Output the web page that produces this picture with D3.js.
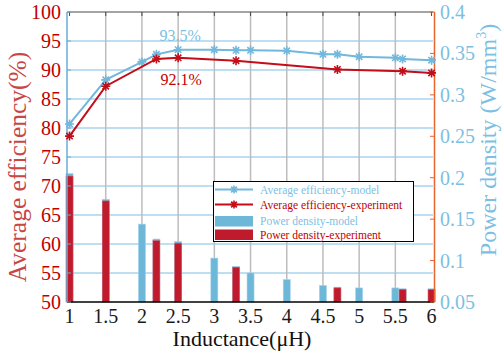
<!DOCTYPE html>
<html>
<head>
<meta charset="utf-8">
<script src="https://cdn.jsdelivr.net/npm/d3@7"></script>
<style>
  html, body { margin: 0; padding: 0; background: #fff; }
  svg { display: block; }
  svg text { font-family: "Liberation Serif", "DejaVu Serif", serif; }
</style>
</head>
<body>
<svg id="chart" width="503" height="356"></svg>
<script>
// Inductance values (µH)
const inductanceModel = [1, 1.5, 2, 2.2, 2.5, 3, 3.3, 3.5, 4, 4.5, 4.7, 5, 5.5, 5.6, 6];
const inductanceExp = [1, 1.5, 2.2, 2.5, 3.3, 4.7, 5.6, 6];

// Average efficiency (%)
const effModel = [80.7, 88.3, 91.4, 92.7, 93.5, 93.5, 93.4, 93.4, 93.3, 92.7, 92.7, 92.3, 92.1, 91.9, 91.7];
const effExp = [78.6, 87.2, 91.9, 92.1, 91.6, 90.1, 89.8, 89.5];

// Power density (W/mm^3)
const pdModel = [0.205, 0.174, 0.144, 0.126, 0.123, 0.103, 0.093, 0.085, 0.077, 0.070, 0.068, 0.067, 0.067, 0.066, 0.066];
const pdExp = [0.202, 0.172, 0.124, 0.121, 0.092, 0.067, 0.065, 0.065];

// Axis ticks
const xTicks = [1, 1.5, 2, 2.5, 3, 3.5, 4, 4.5, 5, 5.5, 6];
const xTickLabels = ["1", "1.5", "2", "2.5", "3", "3.5", "4", "4.5", "5", "5.5", "6"];
const yLeftTicks = [50, 55, 60, 65, 70, 75, 80, 85, 90, 95, 100];
const yRightTicks = [0.05, 0.1, 0.15, 0.2, 0.25, 0.3, 0.35, 0.4];
const yRightTickLabels = ["0.05", "0.1", "0.15", "0.2", "0.25", "0.3", "0.35", "0.4"];

const legendItems = [
  { label: "Average efficiency-model", kind: "line", series: "model" },
  { label: "Average efficiency-experiment", kind: "line", series: "exp" },
  { label: "Power density-model", kind: "bar", series: "model" },
  { label: "Power density-experiment", kind: "bar", series: "exp" }
];

const C = {
  blueLine: "#72b8dc",
  blueBar: "#6db7d8",
  blueText: "#7dbfe3",
  redLine: "#c40d18",
  redBar: "#c01b2d",
  redText: "#c00000",
  redTitle: "#c84646",
  gridH: "#a9d3ec",
  gridV: "#bdbdbd",
  orange: "#e8652d",
  leftAxis: "#6aaed6"
};

const FONT = '"Liberation Serif", "DejaVu Serif", serif';
const svg = d3.select("#chart").attr("font-family", FONT);
const L = 67, R = 433, T = 12, B = 302;

const x = d3.scaleLinear().domain([0.965, 6.02]).range([L, R]);
const yL = d3.scaleLinear().domain([50, 100]).range([B, T]);
const yR = d3.scaleLinear().domain([0.05, 0.4]).range([B, T]);

// Grid
const grid = svg.append("g");
grid.selectAll("line.h").data(yLeftTicks.filter(v => v > 50 && v < 100)).join("line")
  .attr("x1", L).attr("x2", R).attr("y1", d => yL(d)).attr("y2", d => yL(d))
  .attr("stroke", C.gridH).attr("stroke-width", 1.5);
grid.selectAll("line.v").data(xTicks.filter(v => v > 1 && v < 6)).join("line")
  .attr("x1", d => x(d)).attr("x2", d => x(d)).attr("y1", T).attr("y2", B)
  .attr("stroke", C.gridV).attr("stroke-width", 1.5);

// Bars: model behind, experiment in front
const barW = 7;
svg.append("g").selectAll("rect").data(inductanceModel.map((d, i) => [d, pdModel[i]])).join("rect")
  .attr("x", d => x(d[0]) - barW / 2).attr("width", barW)
  .attr("y", d => yR(d[1])).attr("height", d => B - yR(d[1]))
  .attr("fill", C.blueBar).attr("stroke", "#a6d3ea").attr("stroke-width", 0.6);
svg.append("g").selectAll("rect").data(inductanceExp.map((d, i) => [d, pdExp[i]])).join("rect")
  .attr("x", d => x(d[0]) - barW / 2).attr("width", barW)
  .attr("y", d => yR(d[1])).attr("height", d => B - yR(d[1]))
  .attr("fill", C.redBar).attr("stroke", "#d4616d").attr("stroke-width", 0.5);

// Axes frame
const frame = svg.append("g");
frame.append("line").attr("x1", L).attr("x2", R).attr("y1", T).attr("y2", T)
  .attr("stroke", "#4a4a4a").attr("stroke-width", 1.2);
frame.append("line").attr("x1", L).attr("x2", R + 1).attr("y1", B).attr("y2", B)
  .attr("stroke", "#000").attr("stroke-width", 1.5);
frame.append("line").attr("x1", L).attr("x2", L).attr("y1", T).attr("y2", B)
  .attr("stroke", C.leftAxis).attr("stroke-width", 1.5);
frame.append("line").attr("x1", R + 1.5).attr("x2", R + 1.5).attr("y1", T).attr("y2", B)
  .attr("stroke", C.orange).attr("stroke-width", 1.5);

// Inward tick marks
frame.selectAll("line.tt").data(xTicks).join("line")
  .attr("x1", d => x(d)).attr("x2", d => x(d)).attr("y1", T).attr("y2", T + 4)
  .attr("stroke", "#4a4a4a").attr("stroke-width", 1);
frame.selectAll("line.lt").data(yLeftTicks).join("line")
  .attr("x1", L).attr("x2", L + 4).attr("y1", d => yL(d)).attr("y2", d => yL(d))
  .attr("stroke", C.leftAxis).attr("stroke-width", 1);
frame.selectAll("line.rt").data(yRightTicks).join("line")
  .attr("x1", R + 1.5).attr("x2", R - 3).attr("y1", d => yR(d)).attr("y2", d => yR(d))
  .attr("stroke", C.orange).attr("stroke-width", 1);

// Asterisk marker (8 spokes)
function asterisk(g, cx, cy, r, color) {
  const d = r * Math.SQRT1_2;
  const p = `M${cx - r},${cy}L${cx + r},${cy}M${cx},${cy - r}L${cx},${cy + r}` +
            `M${cx - d},${cy - d}L${cx + d},${cy + d}M${cx - d},${cy + d}L${cx + d},${cy - d}`;
  g.append("path").attr("d", p).attr("stroke", color).attr("stroke-width", 1.6).attr("fill", "none");
}

const lineGen = d3.line().x(d => x(d[0])).y(d => yL(d[1]));
const modelPts = inductanceModel.map((d, i) => [d, effModel[i]]);
const expPts = inductanceExp.map((d, i) => [d, effExp[i]]);

const lines = svg.append("g");
lines.append("path").attr("d", lineGen(modelPts)).attr("fill", "none")
  .attr("stroke", C.blueLine).attr("stroke-width", 2);
modelPts.forEach(p => asterisk(lines, x(p[0]), yL(p[1]), 4.5, C.blueLine));
lines.append("path").attr("d", lineGen(expPts)).attr("fill", "none")
  .attr("stroke", C.redLine).attr("stroke-width", 2);
expPts.forEach(p => asterisk(lines, x(p[0]), yL(p[1]), 4.5, C.redLine));

// Peak annotations
const iPeakM = inductanceModel.indexOf(2.5);
const iPeakE = inductanceExp.indexOf(2.5);
svg.append("text").attr("font-family", FONT).attr("x", x(2.5) + 2).attr("y", yL(effModel[iPeakM]) - 8.5)
  .attr("text-anchor", "middle").attr("font-size", 16).attr("fill", C.blueText)
  .text(effModel[iPeakM].toFixed(1) + "%");
svg.append("text").attr("font-family", FONT).attr("x", x(2.5) + 3).attr("y", yL(effExp[iPeakE]) + 27)
  .attr("text-anchor", "middle").attr("font-size", 16).attr("fill", C.redText)
  .text(effExp[iPeakE].toFixed(1) + "%");

// Tick labels
svg.append("g").attr("font-family", FONT).selectAll("text").data(xTicks).join("text")
  .attr("x", d => x(d)).attr("y", 323)
  .attr("text-anchor", "middle").attr("font-size", 20).attr("fill", "#1a1a1a")
  .text((d, i) => xTickLabels[i]);
svg.append("g").attr("font-family", FONT).selectAll("text").data(yLeftTicks).join("text")
  .attr("x", 61).attr("y", d => yL(d) + 7)
  .attr("text-anchor", "end").attr("font-size", 20).attr("fill", C.redText)
  .text(d => d);
svg.append("g").attr("font-family", FONT).selectAll("text").data(yRightTicks).join("text")
  .attr("x", 440).attr("y", d => yR(d) + 7)
  .attr("text-anchor", "start").attr("font-size", 20).attr("fill", C.blueText)
  .text((d, i) => yRightTickLabels[i]);

// Axis titles
svg.append("text").attr("font-family", FONT).attr("x", 242).attr("y", 346)
  .attr("text-anchor", "middle").attr("font-size", 22).attr("fill", "#111")
  .text("Inductance(μH)");
svg.append("text").attr("font-family", FONT)
  .attr("transform", `translate(26,${(T + B) / 2 + 10}) rotate(-90)`)
  .attr("text-anchor", "middle").attr("font-size", 25.5).attr("fill", C.redTitle)
  .text("Average efficiency(%)");
const rt = svg.append("text").attr("font-family", FONT)
  .attr("transform", `translate(496,140) rotate(-90)`)
  .attr("text-anchor", "middle").attr("font-size", 24).attr("fill", C.blueText);
rt.append("tspan").text("Power density (W/mm");
rt.append("tspan").attr("font-size", 14).attr("dy", -10).text("3");
rt.append("tspan").attr("dy", 10).text(")");

// Legend
const lg = svg.append("g").attr("font-family", FONT);
lg.append("rect").attr("x", 213.5).attr("y", 181.5).attr("width", 200).attr("height", 60)
  .attr("fill", "#fff").attr("stroke", "#000").attr("stroke-width", 1);
const rowY = [189.5, 204.5, 221, 234.5];
legendItems.forEach((it, i) => {
  const col = it.series === "model" ? (it.kind === "line" ? C.blueLine : C.blueBar)
                                    : (it.kind === "line" ? C.redLine : C.redBar);
  if (it.kind === "line") {
    lg.append("line").attr("x1", 215).attr("x2", 253).attr("y1", rowY[i]).attr("y2", rowY[i])
      .attr("stroke", col).attr("stroke-width", 2);
    asterisk(lg, 234, rowY[i], 4, col);
  } else {
    lg.append("rect").attr("x", 215).attr("y", rowY[i] - 5).attr("width", 38).attr("height", 10.5)
      .attr("fill", col);
  }
  lg.append("text").attr("x", 260).attr("y", rowY[i] + 4)
    .attr("font-size", 11.5).attr("fill", it.series === "model" ? C.blueText : C.redText)
    .text(it.label);
});
</script>
</body>
</html>
